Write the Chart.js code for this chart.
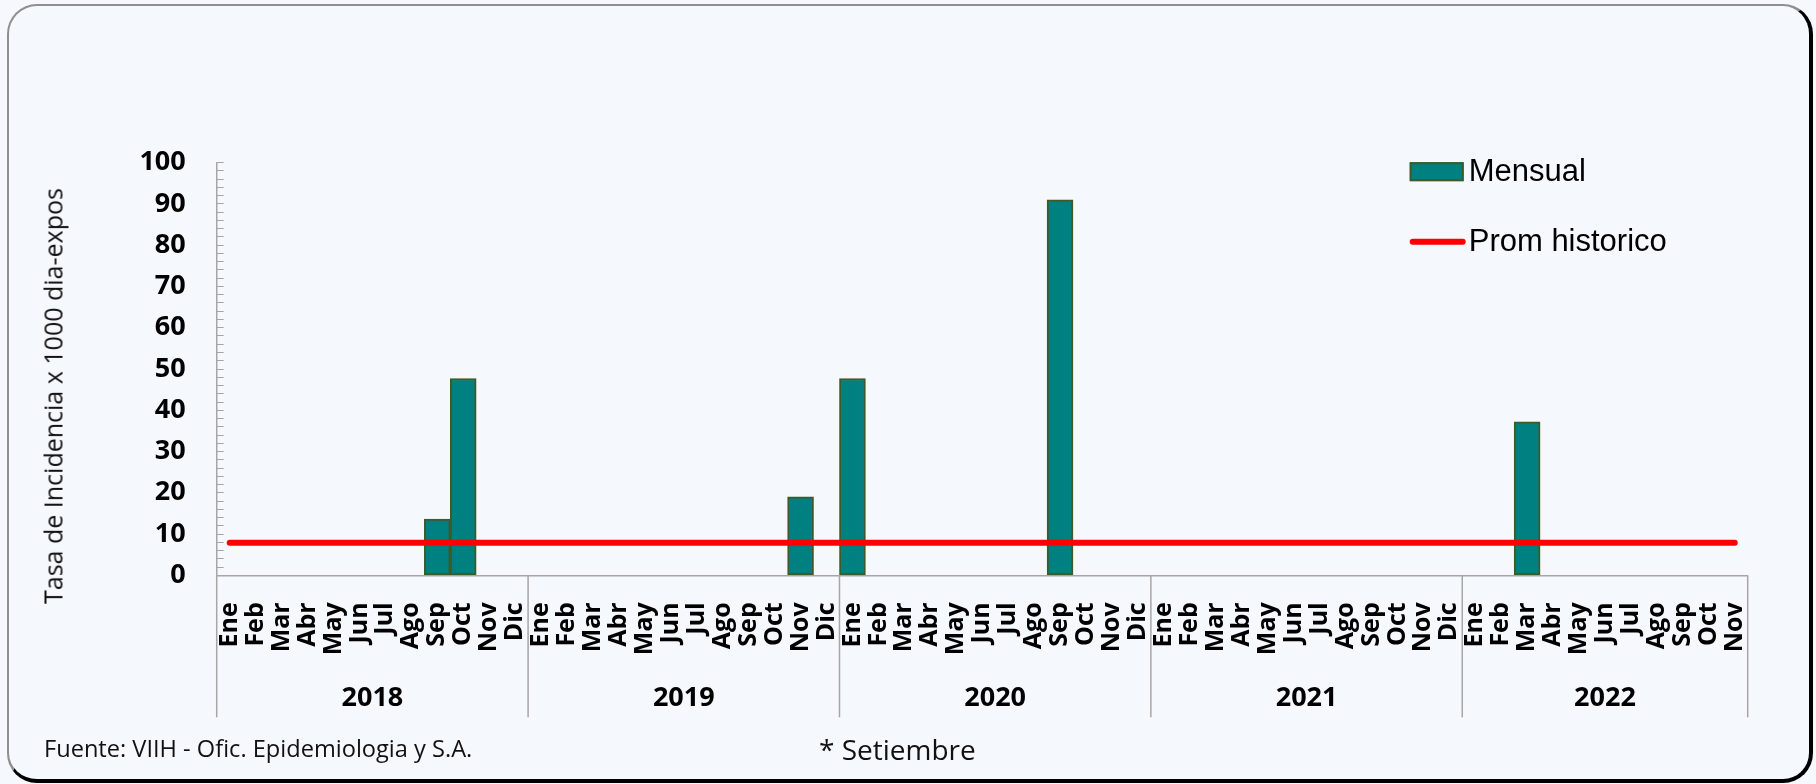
<!DOCTYPE html>
<html>
<head>
  <title>Tasa de Incidencia mensual</title>
  <script src="https://cdn.jsdelivr.net/npm/chart.js"></script>
  <style>
    body {
      margin: 0;
      width: 1816px;
      height: 784px;
      overflow: hidden;
      position: relative;
      background: #f5f8fc;
      font-family: 'Open Sans', sans-serif;
    }

    .frame {
      position: absolute;
      left: 7px;
      top: 4px;
      width: 1806px;
      height: 779px;
      box-sizing: border-box;
      border: 2px solid #8f8f8f;
      border-right: 4px solid #000;
      border-bottom: 4px solid #000;
      border-radius: 30px;
    }

    .chart-box {
      position: absolute;
      left: 0;
      top: 0;
      width: 1816px;
      height: 784px;
    }

    .y-title {
      position: absolute;
      left: 53px;
      top: 396px;
      transform: translate(-50%, -50%) rotate(-90deg);
      white-space: nowrap;
      font-size: 25px;
      line-height: 1;
      color: #111;
    }

    .fuente {
      position: absolute;
      left: 44px;
      top: 749px;
      transform: translateY(-50%);
      font-size: 23.6px;
      line-height: 1;
      color: #111;
    }

    .nota {
      position: absolute;
      left: 819px;
      top: 749px;
      transform: translateY(-50%);
      font-size: 28px;
      line-height: 1;
      color: #111;
    }
  </style>
</head>
<body>

  <div class="frame"></div>
  <div class="chart-box"><canvas id="tasaChart"></canvas></div>
  <div class="y-title">Tasa de Incidencia x 1000 dia-expos</div>
  <div class="fuente">Fuente: VIIH - Ofic. Epidemiologia y S.A.</div>
  <div class="nota">* Setiembre</div>

  <script>
    // datos
    const monthNames = ['Ene', 'Feb', 'Mar', 'Abr', 'May', 'Jun', 'Jul', 'Ago', 'Sep', 'Oct', 'Nov', 'Dic'];
    const years = ['2018', '2019', '2020', '2021', '2022'];

    const mensual2018 = [0, 0, 0, 0, 0, 0, 0, 0, 13.6, 47.7, 0, 0];
    const mensual2019 = [0, 0, 0, 0, 0, 0, 0, 0, 0, 0, 19.0, 0];
    const mensual2020 = [47.7, 0, 0, 0, 0, 0, 0, 0, 91.0, 0, 0, 0];
    const mensual2021 = [0, 0, 0, 0, 0, 0, 0, 0, 0, 0, 0, 0];
    const mensual2022 = [0, 0, 37.2, 0, 0, 0, 0, 0, 0, 0, 0];

    const promHistorico = 7.9;

    const porAnio = [mensual2018, mensual2019, mensual2020, mensual2021, mensual2022];
    const labels = porAnio.flatMap(arr => arr.map((_, i) => monthNames[i]));
    const mensual = porAnio.flat();

    const FONT = "'Open Sans', sans-serif";
    Chart.defaults.font.family = FONT;
    Chart.defaults.color = '#000';

    // leyenda dentro del area del grafico, arriba a la derecha
    const insideLegend = {
      id: 'insideLegend',
      afterDraw(chart) {
        const { ctx, chartArea } = chart;
        const x0 = chartArea.right - 338;
        ctx.save();
        ctx.font = '31px "Liberation Sans", Arial, sans-serif';
        ctx.textBaseline = 'middle';
        ctx.textAlign = 'left';
        chart.data.datasets.forEach((ds, i) => {
          const yc = chartArea.top + 9 + i * 70;
          if (ds.type === 'line') {
            ctx.strokeStyle = ds.borderColor;
            ctx.lineWidth = ds.borderWidth;
            ctx.lineCap = 'round';
            ctx.beginPath();
            ctx.moveTo(x0 + 3, yc);
            ctx.lineTo(x0 + 53, yc);
            ctx.stroke();
          } else {
            ctx.fillStyle = ds.backgroundColor;
            ctx.fillRect(x0, yc - 9.5, 54, 19);
            ctx.strokeStyle = ds.borderColor;
            ctx.lineWidth = 2;
            ctx.strokeRect(x0 + 1, yc - 8.5, 52, 17);
          }
          ctx.fillStyle = '#000';
          ctx.fillText(ds.label, x0 + 59, yc + 1);
        });
        ctx.restore();
      }
    };

    // segunda fila del eje x: años con separadores
    const yearGroups = {
      id: 'yearGroups',
      afterDraw(chart) {
        const { ctx, chartArea } = chart;
        const xs = chart.scales.x;
        const half = (xs.getPixelForValue(1) - xs.getPixelForValue(0)) / 2;
        const edge = i => i < labels.length
          ? xs.getPixelForValue(i) - half
          : xs.getPixelForValue(labels.length - 1) + half;
        const yTop = chartArea.bottom;
        ctx.save();
        ctx.strokeStyle = '#a6a6a6';
        ctx.lineWidth = 1.5;
        ctx.fillStyle = '#000';
        ctx.font = 'bold 27px ' + FONT;
        ctx.textAlign = 'center';
        ctx.textBaseline = 'middle';
        let start = 0;
        years.forEach((yr, k) => {
          const a = edge(start);
          const b = edge(start + porAnio[k].length);
          ctx.beginPath();
          ctx.moveTo(a, yTop);
          ctx.lineTo(a, yTop + 142);
          ctx.stroke();
          ctx.fillText(yr, (a + b) / 2, yTop + 123);
          start += porAnio[k].length;
        });
        const last = edge(labels.length);
        ctx.beginPath();
        ctx.moveTo(last, yTop);
        ctx.lineTo(last, yTop + 142);
        ctx.stroke();
        ctx.restore();
      }
    };

    const ctx = document.getElementById('tasaChart').getContext('2d');
    new Chart(ctx, {
      data: {
        labels: labels,
        datasets: [{
          type: 'bar',
          label: 'Mensual',
          data: mensual,
          backgroundColor: '#008080',
          borderColor: '#3d5a29',
          borderWidth: 2,
          borderSkipped: false,
          categoryPercentage: 1,
          barPercentage: 1,
          order: 2
        }, {
          type: 'line',
          label: 'Prom historico',
          data: labels.map(() => promHistorico),
          borderColor: '#ff0000',
          backgroundColor: '#ff0000',
          borderWidth: 6,
          borderCapStyle: 'round',
          pointRadius: 0,
          tension: 0,
          order: 1
        }]
      },
      options: {
        responsive: true,
        maintainAspectRatio: false,
        devicePixelRatio: 1,
        animation: false,
        layout: {
          padding: { left: 0, top: 162.7, right: 68.3, bottom: 0 }
        },
        plugins: {
          legend: { display: false },
          tooltip: { enabled: false }
        },
        scales: {
          x: {
            grid: { display: false },
            border: { display: true, color: '#a6a6a6', width: 1.5 },
            ticks: {
              autoSkip: false,
              maxRotation: 90,
              minRotation: 90,
              padding: 19,
              color: '#000',
              font: { size: 25, weight: 'bold' }
            },
            afterFit: s => { s.height = 208.7; }
          },
          y: {
            min: 0,
            max: 100,
            grid: {
              drawOnChartArea: false,
              drawTicks: true,
              tickLength: -7,
              color: '#a6a6a6',
              lineWidth: 1
            },
            border: { display: true, color: '#a6a6a6', width: 1.5 },
            ticks: {
              stepSize: 2,
              autoSkip: false,
              padding: 38,
              color: '#000',
              font: { size: 27, weight: 'bold' },
              callback: v => (v % 10 === 0 ? v : '')
            },
            afterFit: s => { s.width = 216.7; }
          }
        }
      },
      plugins: [insideLegend, yearGroups]
    });
  </script>
</body>
</html>
